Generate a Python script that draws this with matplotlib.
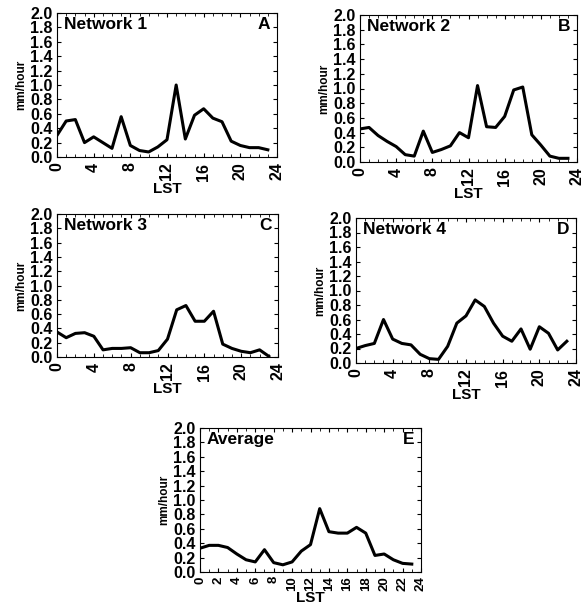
import matplotlib.pyplot as plt
import numpy as np
from matplotlib.ticker import MultipleLocator

plt.rcParams['font.family'] = ['Liberation Sans', 'DejaVu Sans']
plt.rcParams['font.weight'] = 'bold'

hours = list(range(24))

net1 = [0.30, 0.50, 0.52, 0.20, 0.28, 0.20, 0.12, 0.56, 0.16, 0.09, 0.07, 0.14,
        0.24, 1.00, 0.25, 0.58, 0.67, 0.54, 0.49, 0.22, 0.16, 0.13, 0.13, 0.10]
net2 = [0.45, 0.47, 0.36, 0.28, 0.21, 0.10, 0.08, 0.42, 0.13, 0.17, 0.22, 0.40,
        0.33, 1.04, 0.48, 0.47, 0.62, 0.98, 1.02, 0.37, 0.23, 0.08, 0.05, 0.05]
net3 = [0.35, 0.27, 0.33, 0.34, 0.29, 0.10, 0.12, 0.12, 0.13, 0.06, 0.06, 0.09,
        0.25, 0.66, 0.72, 0.50, 0.50, 0.64, 0.18, 0.12, 0.08, 0.06, 0.10, 0.01]
net4 = [0.20, 0.24, 0.27, 0.60, 0.33, 0.27, 0.25, 0.12, 0.06, 0.05, 0.23, 0.55,
        0.65, 0.87, 0.78, 0.55, 0.37, 0.30, 0.47, 0.19, 0.50, 0.41, 0.18, 0.30]
avg = [0.33, 0.37, 0.37, 0.34, 0.25, 0.17, 0.14, 0.31, 0.13, 0.10, 0.14, 0.29,
       0.38, 0.88, 0.56, 0.54, 0.54, 0.62, 0.54, 0.23, 0.25, 0.17, 0.12, 0.11]

titles = ['Network 1', 'Network 2', 'Network 3', 'Network 4', 'Average']
letters = ['A', 'B', 'C', 'D', 'E']
series = [net1, net2, net3, net4, avg]

W, H = 585, 607
# axes boxes in pixels: left, top, right, bottom
boxes = [(57, 13, 277, 157),
         (360, 15, 577, 162),
         (57, 214, 278, 357),
         (356, 218, 576, 363),
         (200, 428, 421, 572)]

fig = plt.figure(figsize=(W / 100, H / 100), dpi=100)

yvals = np.arange(0, 2.01, 0.2)

for i in range(5):
    l, t, r, b = boxes[i]
    ax = fig.add_axes([l / W, 1 - b / H, (r - l) / W, (b - t) / H])
    ax.plot(hours, series[i], color='black', linewidth=2.2)
    ax.set_xlim(0, 24)
    ax.set_ylim(0, 2.0)
    if i == 4:
        ax.xaxis.set_major_locator(MultipleLocator(2))
    else:
        ax.xaxis.set_major_locator(MultipleLocator(4))
    ax.xaxis.set_minor_locator(MultipleLocator(1))
    ax.set_yticks(yvals)
    ax.set_yticklabels(['%.1f' % v for v in yvals])
    ax.tick_params(which='both', direction='in', top=True, right=True)
    ax.tick_params(axis='y', pad=3, labelsize=11.5)
    if i == 4:
        ax.tick_params(axis='x', pad=3, labelsize=9.5)
    else:
        ax.tick_params(axis='x', pad=4, labelsize=11.5)
    ax.tick_params(which='major', length=3, width=0.8)
    ax.tick_params(which='minor', length=2, width=0.6)
    for lab in ax.get_xticklabels():
        lab.set_rotation(90)
        lab.set_fontweight('bold')
    for lab in ax.get_yticklabels():
        lab.set_fontweight('bold')
    for s in ax.spines.values():
        s.set_linewidth(0.8)
    ax.set_xlabel('LST', fontsize=11, fontweight='bold',
                  labelpad=0 if i == 4 else 1)
    ax.set_ylabel('mm/hour', fontsize=8.5, fontweight='bold', labelpad=2)
    ax.text(0.03, 0.97, titles[i], transform=ax.transAxes, ha='left', va='top',
            fontsize=12.5, fontweight='bold')
    ax.text(0.97, 0.97, letters[i], transform=ax.transAxes, ha='right', va='top',
            fontsize=12.5, fontweight='bold')

plt.savefig('out.png', dpi=100)
